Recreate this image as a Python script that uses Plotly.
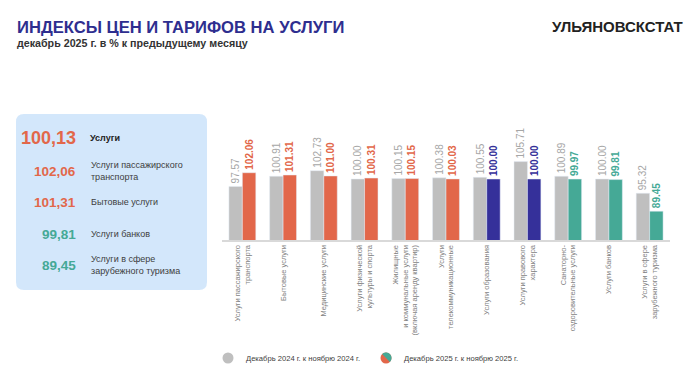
import math
import plotly.graph_objects as go

# page body has an 8px margin; figure is sized to fit the 700x373 window
OFF = 8
W, H = 700 - OFF, 373 - OFF

categories = [
    "Услуги пассажирского<br>транспорта",
    "Бытовые услуги",
    "Медицинские услуги",
    "Услуги физической<br>культуры и спорта",
    "Жилищные<br>и коммунальные услуги<br>(включая аренду квартир)",
    "Услуги<br>телекоммуникационные",
    "Услуги образования",
    "Услуги правового<br>характера",
    "Санаторно-<br>оздоровительные услуги",
    "Услуги банков",
    "Услуги в сфере<br>зарубежного туризма",
]
v2024 = [97.57, 100.91, 102.73, 100.00, 100.15, 100.38, 100.55, 105.71, 100.89, 100.00, 95.32]
v2025 = [102.06, 101.31, 101.00, 100.31, 100.15, 100.03, 100.00, 100.00, 99.97, 99.81, 89.45]
groups2025 = ["up", "up", "up", "up", "up", "up", "flat", "flat", "down", "down", "down"]

panel_values = ["100,13", "102,06", "101,31", "99,81", "89,45"]
panel_labels = [
    "Услуги",
    "Услуги пассажирского<br>транспорта",
    "Бытовые услуги",
    "Услуги банков",
    "Услуги в сфере<br>зарубежного туризма",
]
panel_groups = ["up", "up", "up", "down", "down"]

legend_labels = ["Декабрь 2024 г. к ноябрю 2024 г.", "Декабрь 2025 г. к ноябрю 2025 г."]

ORANGE = "#E2674A"
NAVY = "#35309A"
TEAL = "#45A996"
GRAY = "#BFBFBF"
GRAY_TXT = "#A6A6A6"
group_color = {"up": ORANGE, "flat": NAVY, "down": TEAL}
FONT = "Arial, Liberation Sans, sans-serif"


def px(x):
    return (x - OFF) / W


def py(y):
    return 1 - (y - OFF) / H


fig = go.Figure()
fig.add_trace(go.Bar(
    x=categories, y=v2024, name=legend_labels[0],
    marker=dict(color=GRAY),
    text=[f"{v:.2f}" for v in v2024], textposition="outside", textangle=-90,
    textfont=dict(family=FONT, size=10, color=GRAY_TXT),
    cliponaxis=False, constraintext="none", showlegend=False,
))
c2025 = [group_color[g] for g in groups2025]
fig.add_trace(go.Bar(
    x=categories, y=v2025, name=legend_labels[1],
    marker=dict(color=c2025),
    text=[f"<b>{v:.2f}</b>" for v in v2025], textposition="outside", textangle=-90,
    textfont=dict(family=FONT, size=10, color=c2025),
    cliponaxis=False, constraintext="none", showlegend=False,
))

shapes = []
annotations = []

# left panel rounded rectangle
x0, x1, y0, y1, r = 16, 207, 114, 290, 8
pts = [
    ("M", x0 + r, y0), ("L", x1 - r, y0), ("Q", x1, y0, x1, y0 + r),
    ("L", x1, y1 - r), ("Q", x1, y1, x1 - r, y1), ("L", x0 + r, y1),
    ("Q", x0, y1, x0, y1 - r), ("L", x0, y0 + r), ("Q", x0, y0, x0 + r, y0),
]
path = ""
for p in pts:
    cmd = p[0]
    coords = p[1:]
    s = " ".join(f"{px(coords[i]):.5f},{py(coords[i+1]):.5f}" for i in range(0, len(coords), 2))
    path += f"{cmd}{s} "
path += "Z"
shapes.append(dict(type="path", xref="paper", yref="paper", path=path,
                   fillcolor="#D3E7FB", line=dict(width=0), layer="below"))

panel_y = [138, 171, 202, 234, 265]
for i, (val, lab, g) in enumerate(zip(panel_values, panel_labels, panel_groups)):
    big = i == 0
    annotations.append(dict(
        x=px(78), y=py(panel_y[i]), xref="paper", yref="paper",
        text=f"<b>{val}</b>", showarrow=False, xanchor="right", yanchor="middle",
        font=dict(family=FONT, size=18 if big else 13.5, color=group_color[g]),
    ))
    annotations.append(dict(
        x=px(88 if big else 89), y=py(panel_y[i]), xref="paper", yref="paper",
        text=f"<b>{lab}</b>" if big else lab, showarrow=False, xanchor="left", yanchor="middle",
        align="left",
        font=dict(family=FONT, size=9, color="#222222" if big else "#404040"),
    ))

# titles
annotations.append(dict(
    x=px(15), y=py(27), xref="paper", yref="paper",
    text="<b>ИНДЕКСЫ ЦЕН И ТАРИФОВ НА УСЛУГИ</b>", showarrow=False,
    xanchor="left", yanchor="middle", font=dict(family=FONT, size=16.6, color="#2E2E8F"),
))
annotations.append(dict(
    x=px(15), y=py(43), xref="paper", yref="paper",
    text="<b>декабрь 2025 г. в % к предыдущему месяцу</b>", showarrow=False,
    xanchor="left", yanchor="middle", font=dict(family=FONT, size=10.7, color="#333333"),
))
annotations.append(dict(
    x=px(685), y=py(26), xref="paper", yref="paper",
    text="<b>УЛЬЯНОВСКСТАТ</b>", showarrow=False,
    xanchor="right", yanchor="middle", font=dict(family=FONT, size=15, color="#222222"),
))

# legend
ly = 358
lr = 5.5
cx1, cx2 = 228, 386
shapes.append(dict(type="circle", xref="paper", yref="paper",
                   x0=px(cx1 - lr), x1=px(cx1 + lr), y0=py(ly + lr), y1=py(ly - lr),
                   fillcolor=GRAY, line=dict(width=0)))
shapes.append(dict(type="circle", xref="paper", yref="paper",
                   x0=px(cx2 - lr), x1=px(cx2 + lr), y0=py(ly + lr), y1=py(ly - lr),
                   fillcolor=ORANGE, line=dict(width=0)))
arc = []
n = 30
for k in range(n + 1):
    a = math.radians(135 - 180 * k / n)
    arc.append((cx2 + lr * math.cos(a), ly - lr * math.sin(a)))
hp = "M" + " L".join(f"{px(x):.5f},{py(y):.5f}" for x, y in arc) + " Z"
shapes.append(dict(type="path", xref="paper", yref="paper", path=hp,
                   fillcolor=TEAL, line=dict(width=0)))
annotations.append(dict(x=px(244), y=py(ly), xref="paper", yref="paper",
                        text=legend_labels[0], showarrow=False, xanchor="left", yanchor="middle",
                        font=dict(family=FONT, size=7.6, color="#404040")))
annotations.append(dict(x=px(402), y=py(ly), xref="paper", yref="paper",
                        text=legend_labels[1], showarrow=False, xanchor="left", yanchor="middle",
                        font=dict(family=FONT, size=7.6, color="#404040")))

base_px = 240
top_px = 148.5
fig.update_layout(
    width=W, height=H,
    margin=dict(l=0, r=0, t=0, b=0),
    paper_bgcolor="white", plot_bgcolor="rgba(0,0,0,0)",
    barmode="group", bargap=0.34, bargroupgap=0.0,
    shapes=shapes, annotations=annotations,
    showlegend=False,
    xaxis=dict(
        domain=[px(222), px(670)], anchor="y",
        showline=True, linecolor="#D9D9D9", linewidth=2,
        ticks="", tickangle=-90, automargin=False,
        tickfont=dict(family=FONT, size=7.5, color="#7F7F7F"),
        showgrid=False, zeroline=False,
    ),
    yaxis=dict(
        domain=[py(base_px), py(top_px)], range=[80, 110], visible=False,
        showgrid=False, zeroline=False, automargin=False,
    ),
)

fig.write_html("out.html")
